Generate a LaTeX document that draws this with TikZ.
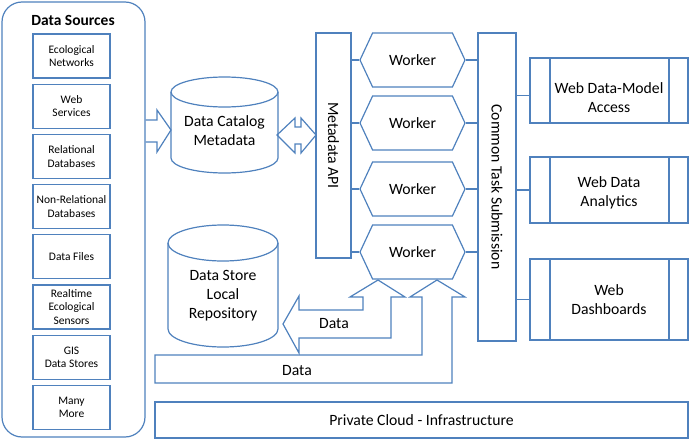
\documentclass[tikz,border=0pt]{standalone}
\usepackage{fontspec}
\setmainfont{Carlito}
\usetikzlibrary{shapes.symbols, positioning}
\definecolor{lineblue}{RGB}{79,129,189}
\newcommand{\lowertext}[2]{\raisebox{-#1}[\height][\depth]{\begin{tabular}{@{}c@{}}#2\end{tabular}}}
% cylinder outline round a node: node, x radius, y radius
\newcommand{\drawdrum}[3]{%
  \draw[link] ([yshift=-#3]#1.north) ellipse [x radius=#2, y radius=#3];
  \draw[link] ([yshift=-#3]#1.north west) -- ([yshift=#3]#1.south west)
    arc[start angle=180, end angle=360, x radius=#2, y radius=#3] -- ([yshift=-#3]#1.north east);}

\begin{document}
\begin{tikzpicture}[
    x=1pt, y=-1pt,
    every node/.style={font=\fontsize{15.7}{19}\selectfont, inner sep=0pt},
    panel/.style={rectangle, draw=lineblue, line width=1.2pt, text centered},
    source/.style={rectangle, draw=lineblue, line width=1.2pt, minimum width=77pt, minimum height=44pt, align=center, font=\fontsize{11.5}{13.5}\selectfont},
    worker/.style={signal, signal to=west and east, signal pointer angle=130, draw=lineblue, line width=1.2pt, minimum width=105pt, minimum height=54pt},
    webapp/.style={rectangle, draw=lineblue, line width=1.2pt, minimum width=158pt, align=center,
        path picture={\draw[lineblue, line width=1.2pt]
            ([xshift=20pt]path picture bounding box.north west) -- ([xshift=20pt]path picture bounding box.south west)
            ([xshift=-19pt]path picture bounding box.north east) -- ([xshift=-19pt]path picture bounding box.south east);}},
    store/.style={rectangle, outer sep=0pt, align=center},
    link/.style={draw=lineblue, line width=1.2pt},
    blockarrow/.style={draw=lineblue, line width=1.2pt, line join=miter}
]
\useasboundingbox (0,0) rectangle (689,439);

% Data sources
\node[panel, rounded corners=20pt, minimum width=143pt, minimum height=435pt] (panel) at (73.5,219.5) {};
\node[font=\bfseries\fontsize{15.5}{19}\selectfont] (title) at (73,20) {Data Sources};
\foreach \txt [count=\i] in {Ecological\\Networks, Web\\Services, Relational\\Databases, Non-Relational\\Databases, Data Files, Realtime\\Ecological\\Sensors, GIS\\Data Stores, Many\\More}
    \node[source] (src\i) at (71.5,{56+50.2*(\i-1)}) {\txt};

% Stores
\node[store, minimum width=107pt, minimum height=96pt] (catalog) at (224.5,125) {\lowertext{7pt}{Data Catalog\\Metadata}};
\drawdrum{catalog}{53.5pt}{15pt}
\node[store, minimum width=110pt, minimum height=122pt] (local) at (223,286) {\lowertext{10pt}{Data Store\\Local\\Repository}};
\drawdrum{local}{55pt}{18pt}

% API and task submission
\node[panel, minimum width=35pt, minimum height=225pt, label={[rotate=-90]center:Metadata API}] (api) at (333.5,145.5) {};
\node[panel, minimum width=38pt, minimum height=308pt, label={[rotate=-90]center:Common Task Submission}] (cts) at (497,187) {};

% Workers
\node[worker] (w1) at (412.5,60) {Worker};
\node[worker] (w2) at (412.5,123) {Worker};
\node[worker] (w3) at (412.5,189) {Worker};
\node[worker] (w4) at (412.5,252) {Worker};

% Web applications
\node[webapp, minimum height=65pt] (web1) at (609,90.5) {\lowertext{9pt}{Web Data-Model\\Access}};
\node[webapp, minimum height=66pt] (web2) at (609,190) {\lowertext{3pt}{Web Data\\Analytics}};
\node[webapp, minimum height=81pt] (web3) at (609,299.5) {Web\\Dashboards};

% Infrastructure
\node[panel, minimum width=533pt, minimum height=36pt] (cloud) at (421.5,420) {Private Cloud - Infrastructure};

% Links
\foreach \w in {w1,w2,w3,w4} {
    \draw[link] (\w.west -| api.east) -- (\w.west);
    \draw[link] (\w.east) -- (\w.east -| cts.west);
}
\draw[link] ([yshift=-5pt]web1.west -| cts.east) -- ([yshift=-5pt]web1.west);
\draw[link] (web2.west -| cts.east) -- (web2.west);
\draw[link] (web3.west -| cts.east) -- (web3.west);

% Block arrows
\draw[blockarrow] (panel.east |- 0,120) -- (157,120) -- (157,110) -- (171,130) -- (157,152) -- (157,142) -- (panel.east |- 0,142);
\draw[blockarrow] (277,135) -- (295,118) -- (295,127) -- (301,127) -- (301,118) -- (316,135) -- (301,153) -- (301,144) -- (295,144) -- (295,153) -- cycle;
\draw[blockarrow] (378,280) -- (405,297) -- (391,297) -- (391,338) -- (299,338) -- (299,353) -- (283,324) -- (299,296) -- (299,310) -- (363,310) -- (363,297) -- (350,297) -- cycle;
\draw[blockarrow] (155,355) -- (422,355) -- (422,297) -- (410,297) -- (437,280) -- (465,297) -- (452,297) -- (452,383) -- (155,383) -- cycle;

% Arrow labels
\node (data1) at (334,324) {Data};
\node (data2) at (297,371) {Data};

\end{tikzpicture}
\end{document}
